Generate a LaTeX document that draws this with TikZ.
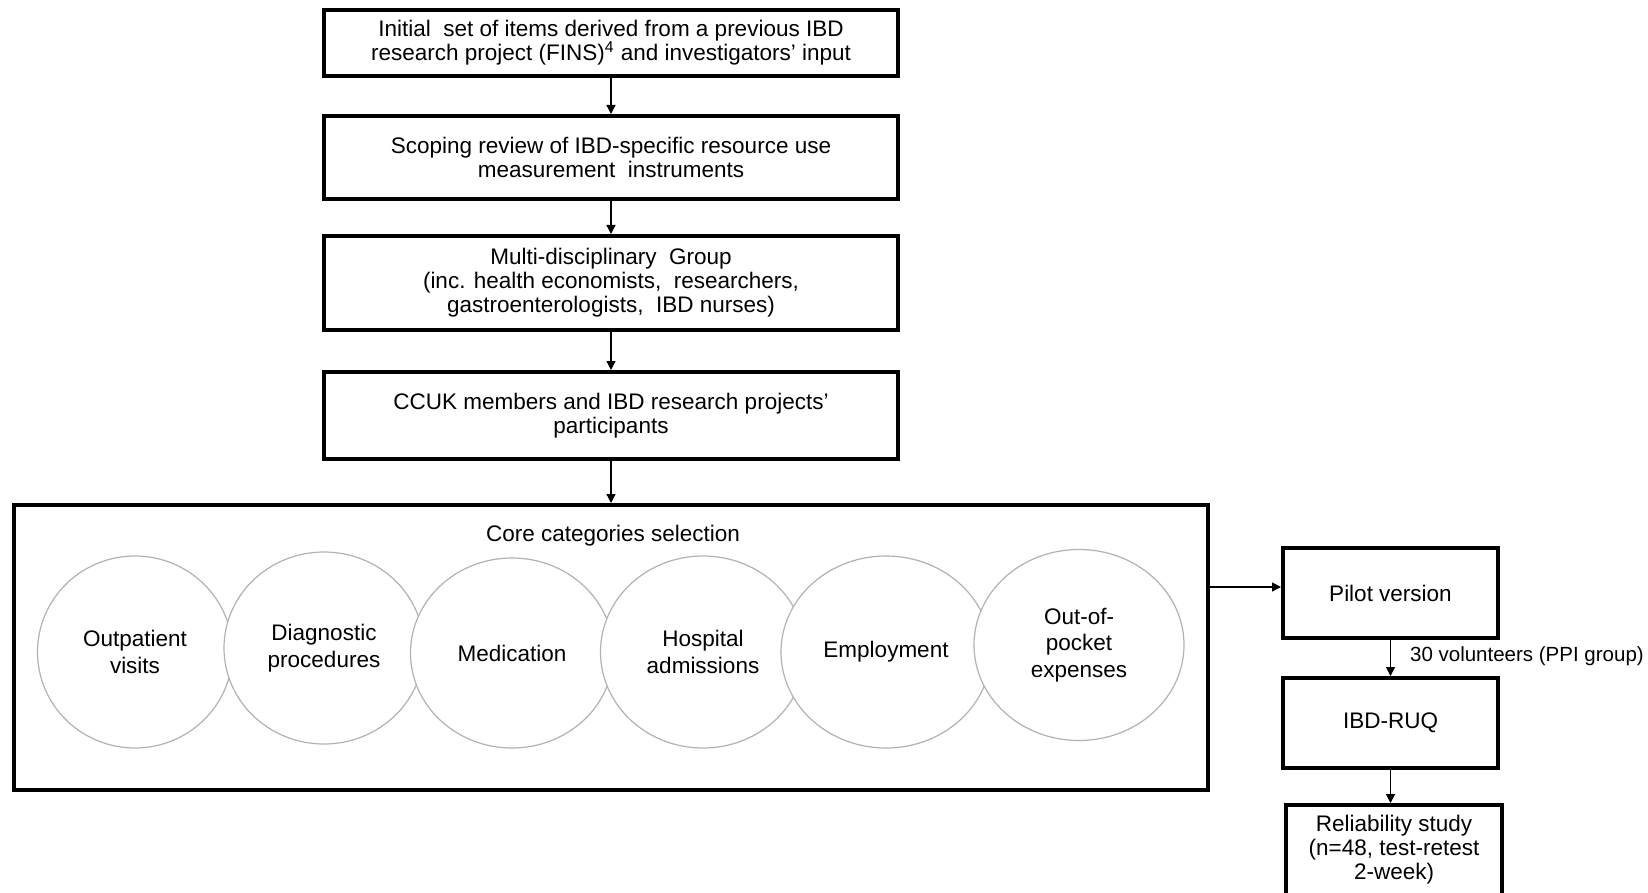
\documentclass[tikz,border=0pt]{standalone}
\usepackage{fontspec}
\setmainfont{Liberation Sans}
\usetikzlibrary{shapes.geometric,arrows.meta}
\begin{document}
\begin{tikzpicture}[x=0.5pt,y=-0.5pt,
  box/.style={draw, line width=2pt, rectangle, inner sep=0pt, align=center, font=\fontsize{11.25}{12}\selectfont},
  cat/.style={draw=black!30, line width=0.6pt, ellipse, fill=white, inner sep=0pt, align=center, font=\fontsize{11.25}{13.4}\selectfont},
  txt/.style={inner sep=0pt, font=\fontsize{11.25}{12}\selectfont},
  small/.style={inner sep=0pt, font=\fontsize{10.25}{12}\selectfont},
  arr/.style={line width=0.65pt, -{Triangle[length=4.5pt,width=4.5pt]}},
]
\useasboundingbox (0,0) rectangle (1648,893);
\clip (0,0) rectangle (1648,893);
\node[box, minimum width=287pt, minimum height=33pt] (b1) at (611,43)
  {Initial\ \ set of items derived from a previous IBD\\research project (FINS)\textsuperscript{4} and investigators’ input};
\node[box, minimum width=287pt, minimum height=41.5pt] (b2) at (611,157.5)
  {Scoping review of IBD-specific resource use\\measurement\ \ instruments};
\node[box, minimum width=287pt, minimum height=47pt] (b3) at (611,283)
  {Multi-disciplinary\ \ Group\\(inc. health economists,\ \ researchers,\\gastroenterologists,\ \ IBD nurses)};
\node[box, minimum width=287pt, minimum height=43.5pt] (b4) at (611,415.5)
  {CCUK members and IBD research projects’\\participants};
\node[box, minimum width=597pt, minimum height=142.5pt] (core) at (611,647.5) {};
\node[txt] (title) at (613,536) {Core categories selection};
\node[cat, minimum width=97.5pt, minimum height=96pt] (c1) at (135,652) {Outpatient\\visits};
\node[cat, minimum width=100pt, minimum height=96pt] (c2) at (324,648) {Diagnostic\\procedures};
\node[cat, minimum width=101.5pt, minimum height=95pt] (c3) at (512,653) {Medication};
\node[cat, minimum width=102.5pt, minimum height=96pt] (c4) at (703,652) {Hospital\\admissions};
\node[cat, minimum width=105pt, minimum height=96pt] (c5) at (886,652) {Employment};
\node[cat, minimum width=105pt, minimum height=95.5pt] (c6) at (1079,645) {Out-of-\\pocket\\expenses};
\node[box, minimum width=107.5pt, minimum height=45pt] (pilot) at (1390.5,593) {Pilot version};
\node[box, minimum width=107.5pt, minimum height=45pt] (ruq) at (1390.5,723) {IBD-RUQ};
\node[box, minimum width=108pt, minimum height=45pt] (rel) at (1394,850)
  {Reliability study\\(n=48, test-retest\\2-week)};
\coordinate (pin) at ([yshift=3pt]pilot.west);
\draw[arr] (b1) -- (b2);
\draw[arr] (b2) -- (b3);
\draw[arr] (b3) -- (b4);
\draw[arr] (b4) -- (core);
\draw[arr] (core.east |- pin) -- (pin);
\draw[arr] (pilot) -- node[small, anchor=west, xshift=9.5pt, yshift=1pt] (vol) {30 volunteers (PPI group)} (ruq);
\draw[arr] (ruq.south) -- (ruq.south |- rel.north);
\end{tikzpicture}
\end{document}
